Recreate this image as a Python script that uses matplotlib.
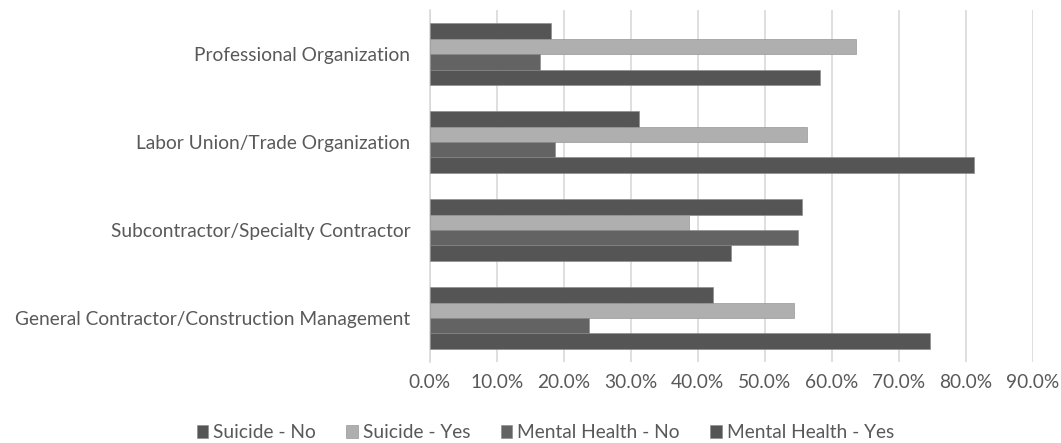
import matplotlib.pyplot as plt
import numpy as np
from matplotlib.ticker import FuncFormatter

# Categories from bottom to top
categories = [
    "General Contractor/Construction Management",
    "Subcontractor/Specialty Contractor",
    "Labor Union/Trade Organization",
    "Professional Organization",
]
suicide_no = [42.2, 55.5, 31.2, 18.1]
suicide_yes = [54.3, 38.7, 56.3, 63.6]
mental_no = [23.7, 55.0, 18.7, 16.5]
mental_yes = [74.6, 45.0, 81.2, 58.3]

series = [
    ("Suicide - No", suicide_no, "#555555"),
    ("Suicide - Yes", suicide_yes, "#afafaf"),
    ("Mental Health - No", mental_no, "#636363"),
    ("Mental Health - Yes", mental_yes, "#555555"),
]

plt.rcParams['font.family'] = ['Lato', 'DejaVu Sans']
text_color = "#595959"
fs = 13.8

fig = plt.figure(figsize=(10.61, 4.43), dpi=100)
ax = fig.add_axes([0.405, 0.183, 0.5685, 0.794])

y = np.arange(len(categories))
bar_h = 0.175
# first series sits on top of each group
for i, (name, vals, color) in enumerate(series):
    offset = (1.5 - i) * bar_h
    ax.barh(y + offset, vals, height=bar_h, color=color, label=name,
            edgecolor="#888888", linewidth=0.4, zorder=3)

ax.set_xlim(0, 90)
ax.set_ylim(-0.5, len(categories) - 0.5)
ax.set_xticks(np.arange(0, 91, 10))
ax.xaxis.set_major_formatter(FuncFormatter(lambda v, _: f"{v:.1f}%"))
ax.set_yticks(y)
ax.set_yticklabels(categories)
ax.tick_params(axis='both', length=0, labelsize=fs, colors=text_color)
ax.tick_params(axis='x', pad=9)
ax.tick_params(axis='y', pad=14)

ax.grid(axis='x', color="#d9d9d9", linewidth=1.2, zorder=0)
for s in ['top', 'right', 'bottom']:
    ax.spines[s].set_visible(False)
ax.spines['left'].set_color("#d9d9d9")
ax.spines['left'].set_linewidth(1.2)

handles, labels = ax.get_legend_handles_labels()
fig.legend(handles, labels, loc='lower center', ncol=4, frameon=False,
           bbox_to_anchor=(0.514, -0.035), fontsize=fs, labelcolor=text_color,
           handlelength=0.6, handleheight=0.6, handletextpad=0.25,
           columnspacing=1.6)

fig.savefig("out.png", dpi=100)
